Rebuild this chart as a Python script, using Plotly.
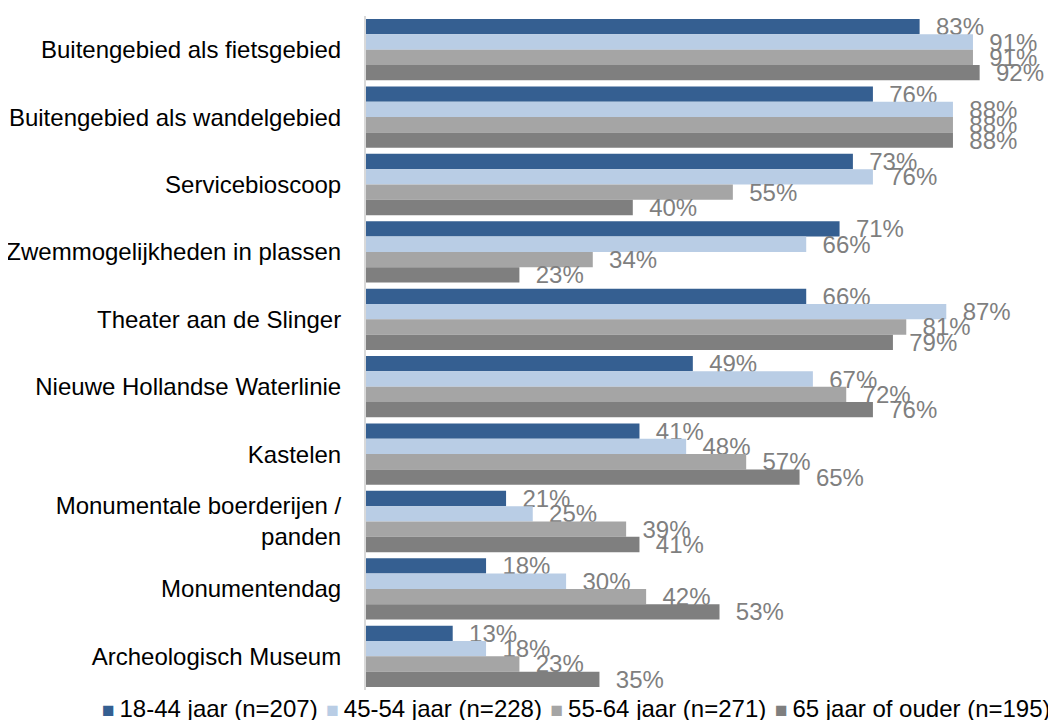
import plotly.graph_objects as go

categories = [
    "Buitengebied als fietsgebied",
    "Buitengebied als wandelgebied",
    "Servicebioscoop",
    "Zwemmogelijkheden in plassen",
    "Theater aan de Slinger",
    "Nieuwe Hollandse Waterlinie",
    "Kastelen",
    "Monumentale boerderijen /<br>panden",
    "Monumentendag",
    "Archeologisch Museum",
]
series_names = [
    "18-44 jaar (n=207)",
    "45-54 jaar (n=228)",
    "55-64 jaar (n=271)",
    "65 jaar of ouder (n=195)",
]
age_18_44 = [83, 76, 73, 71, 66, 49, 41, 21, 18, 13]
age_45_54 = [91, 88, 76, 66, 87, 67, 48, 25, 30, 18]
age_55_64 = [91, 88, 55, 34, 81, 72, 57, 39, 42, 23]
age_65_plus = [92, 88, 40, 23, 79, 76, 65, 41, 53, 35]
series_values = [age_18_44, age_45_54, age_55_64, age_65_plus]
colors = ["#355F91", "#B9CDE5", "#A5A5A5", "#7F7F7F"]

FONT = "Liberation Sans, Arial, sans-serif"
FS = 24
NB = "\u00a0"
THIN = "\u2009"
HAIR = "\u200a"

fig = go.Figure()
for name, vals, col in zip(series_names, series_values, colors):
    fig.add_trace(go.Bar(
        y=categories, x=vals, name=name, orientation="h",
        marker=dict(color=col, line=dict(width=0)),
        text=[f"{NB}{NB}{v}%" for v in vals],
        textposition="outside",
        textfont=dict(family=FONT, size=FS, color="#7F7F7F"),
        constraintext="none",
        cliponaxis=False,
        showlegend=False,
    ))

legend_text = (NB + HAIR).join(
    f"<span style='color:{c};font-size:21px'>■</span>{THIN}{n}"
    for n, c in zip(series_names, colors)
)

# page has an 8px body margin; figure coords = page coords - 8
fig.update_layout(
    width=1048, height=712,
    barmode="group", bargap=0.09, bargroupgap=0,
    margin=dict(l=358, r=23, t=8, b=30, autoexpand=False),
    plot_bgcolor="white", paper_bgcolor="white",
    font=dict(family=FONT, size=FS, color="#000000"),
    xaxis=dict(range=[0, 100], visible=False, showgrid=False, zeroline=False),
    yaxis=dict(autorange="reversed", showline=True, linecolor="#D9D9D9", linewidth=2,
               ticks="", showgrid=False, ticklabelstandoff=18, automargin=False,
               tickfont=dict(family=FONT, size=FS, color="#000000")),
    annotations=[dict(
        text=legend_text, xref="paper", yref="paper",
        x=(576 - 366) / 667, y=-(700 - 682) / 674,
        xanchor="center", yanchor="middle", showarrow=False,
        font=dict(family=FONT, size=FS, color="#000000"),
    )],
)

fig.write_html("out.html")
